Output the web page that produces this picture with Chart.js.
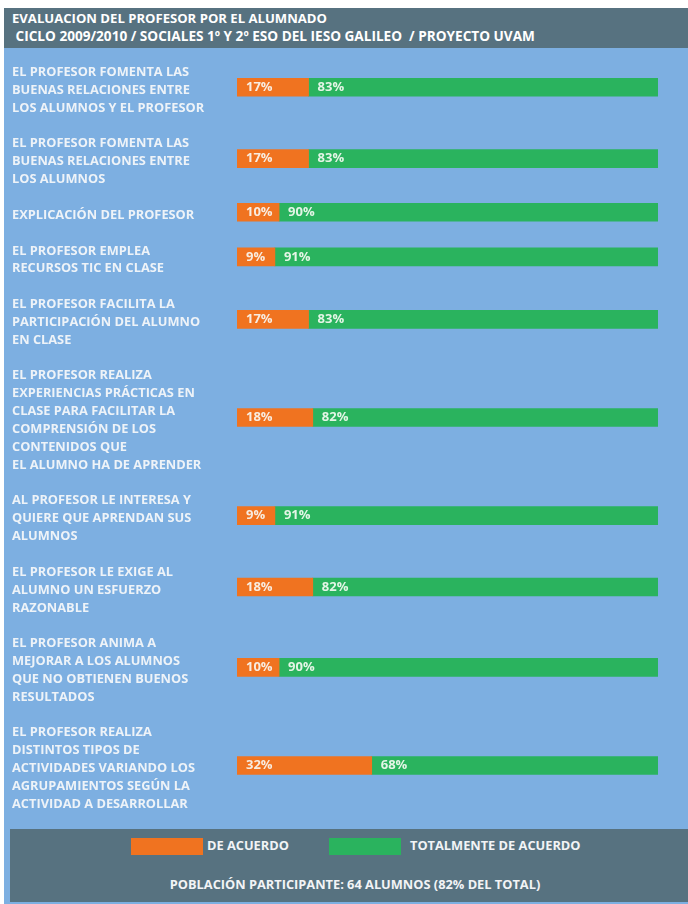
<!DOCTYPE html>
<html>
<head>
<meta charset="utf-8">
<script src="https://cdn.jsdelivr.net/npm/chart.js@4.4.0/dist/chart.umd.min.js"></script>
<style>
  body { margin: 0; background: #fff; font-family: "Open Sans", sans-serif; }
  #marco { position: absolute; left: 4px; top: 8px; width: 684px; height: 896px; background: #7dafe1; }
  #cabecera { position: absolute; left: 0; top: 0; width: 684px; height: 40px; background: #577280;
    color: #fff; font-weight: bold; font-size: 13.1px; white-space: pre; }
  #cabecera div { position: absolute; left: 8px; line-height: 18px; }
  #grafico { position: absolute; left: 0; top: 40px; }
  #pie { position: absolute; left: 6px; top: 821px; width: 678px; height: 73px; background: #577280;
    color: #f2f4f6; font-weight: bold; font-size: 12.8px; }
  .caja { position: absolute; top: 9px; width: 72px; height: 17px; }
  .txt { position: absolute; top: 7px; line-height: 18px; }
  #poblacion { position: absolute; left: 6px; width: 678px; top: 46px; text-align: center; line-height: 18px; }
</style>
</head>
<body>
<div id="marco">
  <div id="cabecera">
    <div style="top:1px">EVALUACION DEL PROFESOR POR EL ALUMNADO</div>
    <div style="top:19px;font-size:13.6px"> CICLO 2009/2010 / SOCIALES 1º Y 2º ESO DEL IESO GALILEO  / PROYECTO UVAM</div>
  </div>
  <canvas id="grafico" width="684" height="780"></canvas>
  <div id="pie">
    <div id="leyenda"></div>
    <div id="poblacion">POBLACIÓN PARTICIPANTE: 64 ALUMNOS (82% DEL TOTAL)</div>
  </div>
</div>
<script>
// preguntas del cuestionario (cada una con sus lineas de texto)
const preguntas = [
  ["EL PROFESOR FOMENTA LAS", "BUENAS RELACIONES ENTRE", "LOS ALUMNOS Y EL PROFESOR"],
  ["EL PROFESOR FOMENTA LAS", "BUENAS RELACIONES ENTRE", "LOS ALUMNOS"],
  ["EXPLICACIÓN DEL PROFESOR"],
  ["EL PROFESOR EMPLEA", "RECURSOS TIC EN CLASE"],
  ["EL PROFESOR FACILITA LA", "PARTICIPACIÓN DEL ALUMNO", "EN CLASE"],
  ["EL PROFESOR REALIZA", "EXPERIENCIAS PRÁCTICAS EN", "CLASE PARA FACILITAR LA", "COMPRENSIÓN DE LOS", "CONTENIDOS QUE", "EL ALUMNO HA DE APRENDER"],
  ["AL PROFESOR LE INTERESA Y", "QUIERE QUE APRENDAN SUS", "ALUMNOS"],
  ["EL PROFESOR LE EXIGE AL", "ALUMNO UN ESFUERZO", "RAZONABLE"],
  ["EL PROFESOR ANIMA A", "MEJORAR A LOS ALUMNOS", "QUE NO OBTIENEN BUENOS", "RESULTADOS"],
  ["EL PROFESOR REALIZA", "DISTINTOS TIPOS DE", "ACTIVIDADES VARIANDO LOS", "AGRUPAMIENTOS SEGÚN LA", "ACTIVIDAD A DESARROLLAR"]
];
const deAcuerdo = [17, 17, 10, 9, 17, 18, 9, 18, 10, 32];
const totalmente = [83, 83, 90, 91, 83, 82, 91, 82, 90, 68];

const naranja = '#f07320';
const verde = '#2ab35e';

// cada pregunta ocupa sus lineas + una en blanco; la barra va en el centro
const lineas = [];
const filas = [];
let n = 0;
preguntas.forEach(p => {
  p.forEach((t, k) => lineas.push({ t: t, pos: n + k }));
  filas.push(n + (p.length - 1) / 2);
  n += p.length + 1;
});

const etiquetas = {
  id: 'etiquetas',
  afterDraw(chart) {
    const ctx = chart.ctx;
    const y = chart.scales.y;
    ctx.save();
    ctx.font = 'bold 12.8px "Open Sans"';
    ctx.fillStyle = '#eef3f8';
    ctx.textBaseline = 'middle';
    lineas.forEach(l => ctx.fillText(l.t, 8, y.getPixelForValue(l.pos) + 3));
    // porcentajes dentro de las barras
    ctx.font = 'bold 13px "Open Sans"';
    chart.data.datasets.forEach((ds, i) => {
      ctx.fillStyle = i == 0 ? '#f8ece0' : '#e4f5e6';
      chart.getDatasetMeta(i).data.forEach((bar, j) => {
        const x0 = Math.min(bar.x, bar.base);
        ctx.fillText(ds.data[j].x + '%', x0 + 9, bar.y);
      });
    });
    ctx.restore();
  }
};

new Chart(document.getElementById('grafico'), {
  type: 'bar',
  data: {
    datasets: [
      { label: 'DE ACUERDO', data: deAcuerdo.map((v, i) => ({ x: v, y: filas[i] })), backgroundColor: naranja },
      { label: 'TOTALMENTE DE ACUERDO', data: totalmente.map((v, i) => ({ x: v, y: filas[i] })), backgroundColor: verde }
    ]
  },
  options: {
    indexAxis: 'y',
    responsive: false,
    animation: false,
    barThickness: 18,
    layout: { padding: { left: 233, right: 30, top: 0, bottom: 0 } },
    plugins: { legend: { display: false }, tooltip: { enabled: false } },
    scales: {
      x: { stacked: true, min: 0, max: 100, display: false },
      y: { type: 'linear', stacked: true, reverse: true, offset: false, min: -1.2, max: 42.5, display: false }
    }
  },
  plugins: [etiquetas]
});

// leyenda del pie
const leyenda = document.getElementById('leyenda');
[[naranja, 'DE ACUERDO', 121, 197], [verde, 'TOTALMENTE DE ACUERDO', 319, 400]].forEach(([c, t, x, xt]) => {
  leyenda.innerHTML += `<div class="caja" style="left:${x}px;background:${c}"></div>` +
    `<div class="txt" style="left:${xt}px">${t}</div>`;
});
</script>
</body>
</html>
